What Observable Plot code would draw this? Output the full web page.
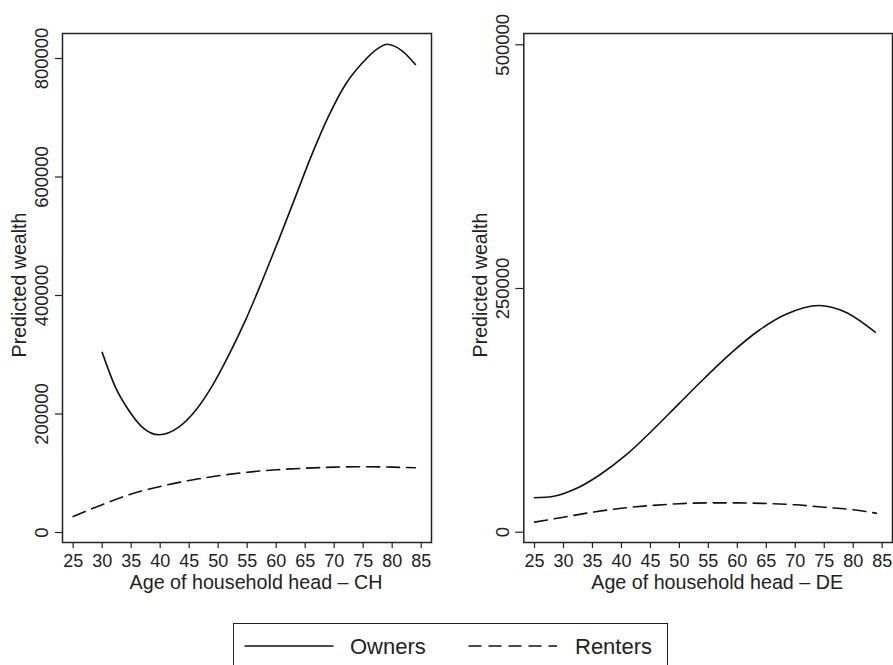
<!DOCTYPE html>
<html><head><meta charset="utf-8">
<script src="https://cdn.jsdelivr.net/npm/d3@7"></script>
<script src="https://cdn.jsdelivr.net/npm/@observablehq/plot@0.6"></script>
<style>
html,body{margin:0;padding:0;background:#fff;overflow:hidden;width:893px;height:665px;}
#wrap{position:relative;width:893px;height:665px;font-family:"Liberation Sans",Arial,sans-serif;color:#222;}
.panel{position:absolute;top:0;}
#legend{position:absolute;left:232.5px;top:623px;width:435px;height:70px;border:1.5px solid #222;box-sizing:border-box;background:#fff;}
#legend svg{position:absolute;left:0;top:0;}
</style></head><body>
<div id="wrap"><div id="left" class="panel" style="left:0"></div><div id="right" class="panel" style="left:446px"></div><div id="legend"></div></div>
<script>
// ---- data ----
const ageTicks = [25, 30, 35, 40, 45, 50, 55, 60, 65, 70, 75, 80, 85];
const chYTicks = [0, 200000, 400000, 600000, 800000];
const deYTicks = [0, 250000, 500000];

const chOwnerAges = [30, 32.3, 34.6, 36.9, 39.8, 43.2, 46.1, 49.0, 51.8, 54.7, 57.6, 60.4, 63.3, 66.2, 69.1, 72.0, 74.8, 77.7, 79.1, 81.7, 84];
const chOwners    = [304000, 245000, 206000, 178000, 165000, 178000, 206000, 248000, 299000, 358000, 425000, 493000, 566000, 639000, 704000, 757000, 792000, 818000, 824000, 813000, 790000];
const chRenterAges = [25, 30, 35, 40, 45, 50, 55, 60, 65, 70, 75, 80, 84];
const chRenters    = [27000, 47000, 65000, 77600, 87800, 95700, 101800, 105800, 108500, 110300, 110900, 110300, 109200];

const deOwnerAges = [25, 28.1, 32.1, 36.1, 40.7, 45.3, 49.9, 54.5, 59.1, 63.7, 68.3, 74.1, 78.7, 83.8];
const deOwners    = [35300, 36600, 44500, 58200, 78700, 104300, 131700, 159000, 184700, 206900, 223300, 232600, 225700, 205200];
const deRenterAges = [25, 30, 35, 40, 45, 50, 55, 60, 65, 70, 75, 80, 84];
const deRenters    = [10300, 15400, 20500, 24600, 27300, 29200, 30100, 30100, 29400, 28100, 25600, 23000, 19500];

const seriesNames = ["Owners", "Renters"];
const yTitle = "Predicted wealth";
const xTitles = ["Age of household head \u2013 CH", "Age of household head \u2013 DE"];

// ---- drawing ----
const FONT = '"Liberation Sans", Arial, Helvetica, sans-serif';
const INK = "#222";
const toRows = (ages, vals) => ages.map((a, i) => ({age: a, value: vals[i]}));

function panel(o) {
  return Plot.plot({
    width: o.width, height: 600,
    marginLeft: o.marginLeft, marginRight: o.marginRight, marginTop: 33, marginBottom: 58,
    style: {fontFamily: FONT, fontSize: "18px", color: INK, background: "transparent", overflow: "visible"},
    x: {domain: o.xDomain},
    y: {domain: o.yDomain},
    marks: [
      Plot.frame({stroke: INK, strokeWidth: 1.5}),
      Plot.axisY({ticks: o.yTicks, tickSize: o.tickSize, tickPadding: o.tickPadding, tickRotate: -90,
                  tickFormat: d3.format("d"), label: null, fontSize: 18.5, strokeWidth: 1.2}),
      Plot.axisX({ticks: ageTicks, tickSize: 6, tickPadding: 6, tickFormat: d3.format("d"),
                  label: null, fontSize: 18, strokeWidth: 1.2}),
      Plot.line(o.owners, {x: "age", y: "value", curve: "monotone-x", stroke: "#111", strokeWidth: 1.6}),
      Plot.line(o.renters, {x: "age", y: "value", curve: "monotone-x", stroke: "#111", strokeWidth: 1.6, strokeDasharray: "13,7"}),
      Plot.text([o.xTitle], {text: d => d, frameAnchor: "bottom", dy: 46, dx: 9, lineAnchor: "bottom", textAnchor: "middle", fontSize: 19.7, fill: INK}),
      Plot.text([yTitle], {text: d => d, frameAnchor: "left", rotate: -90, dx: o.titleDx, dy: -3, lineAnchor: "bottom", textAnchor: "middle", fontSize: 19.6, fill: INK})
    ]
  });
}

document.getElementById("left").appendChild(panel({
  width: 446, marginLeft: 62, marginRight: 15,
  xDomain: [23.16, 86.78], yDomain: [-16878, 842215], yTicks: chYTicks,
  tickSize: 7, tickPadding: 8, titleDx: -37,
  owners: toRows(chOwnerAges, chOwners), renters: toRows(chRenterAges, chRenters),
  xTitle: xTitles[0]
}));

document.getElementById("right").appendChild(panel({
  width: 447, marginLeft: 77.3, marginRight: 1,
  xDomain: [23.15, 86.78], yDomain: [-10566, 511570], yTicks: deYTicks,
  tickSize: 8, tickPadding: 7, titleDx: -36.6,
  owners: toRows(deOwnerAges, deOwners), renters: toRows(deRenterAges, deRenters),
  xTitle: xTitles[1]
}));

// ---- legend ----
const lg = d3.select("#legend").append("svg").attr("width", 435).attr("height", 70)
  .style("font-family", FONT).style("font-size", "22px");
const lgItems = [
  {name: seriesNames[0], dash: null, x0: 10.5, x1: 99.5, tx: 116},
  {name: seriesNames[1], dash: "13,7", x0: 234.5, x1: 323, tx: 341}
];
lgItems.forEach(d => {
  const ln = lg.append("line").attr("x1", d.x0).attr("x2", d.x1).attr("y1", 22).attr("y2", 22)
    .attr("stroke", "#111").attr("stroke-width", 1.6);
  if (d.dash) ln.attr("stroke-dasharray", d.dash);
  lg.append("text").attr("x", d.tx).attr("y", 30).attr("fill", INK).text(d.name);
});
</script>
</body></html>
